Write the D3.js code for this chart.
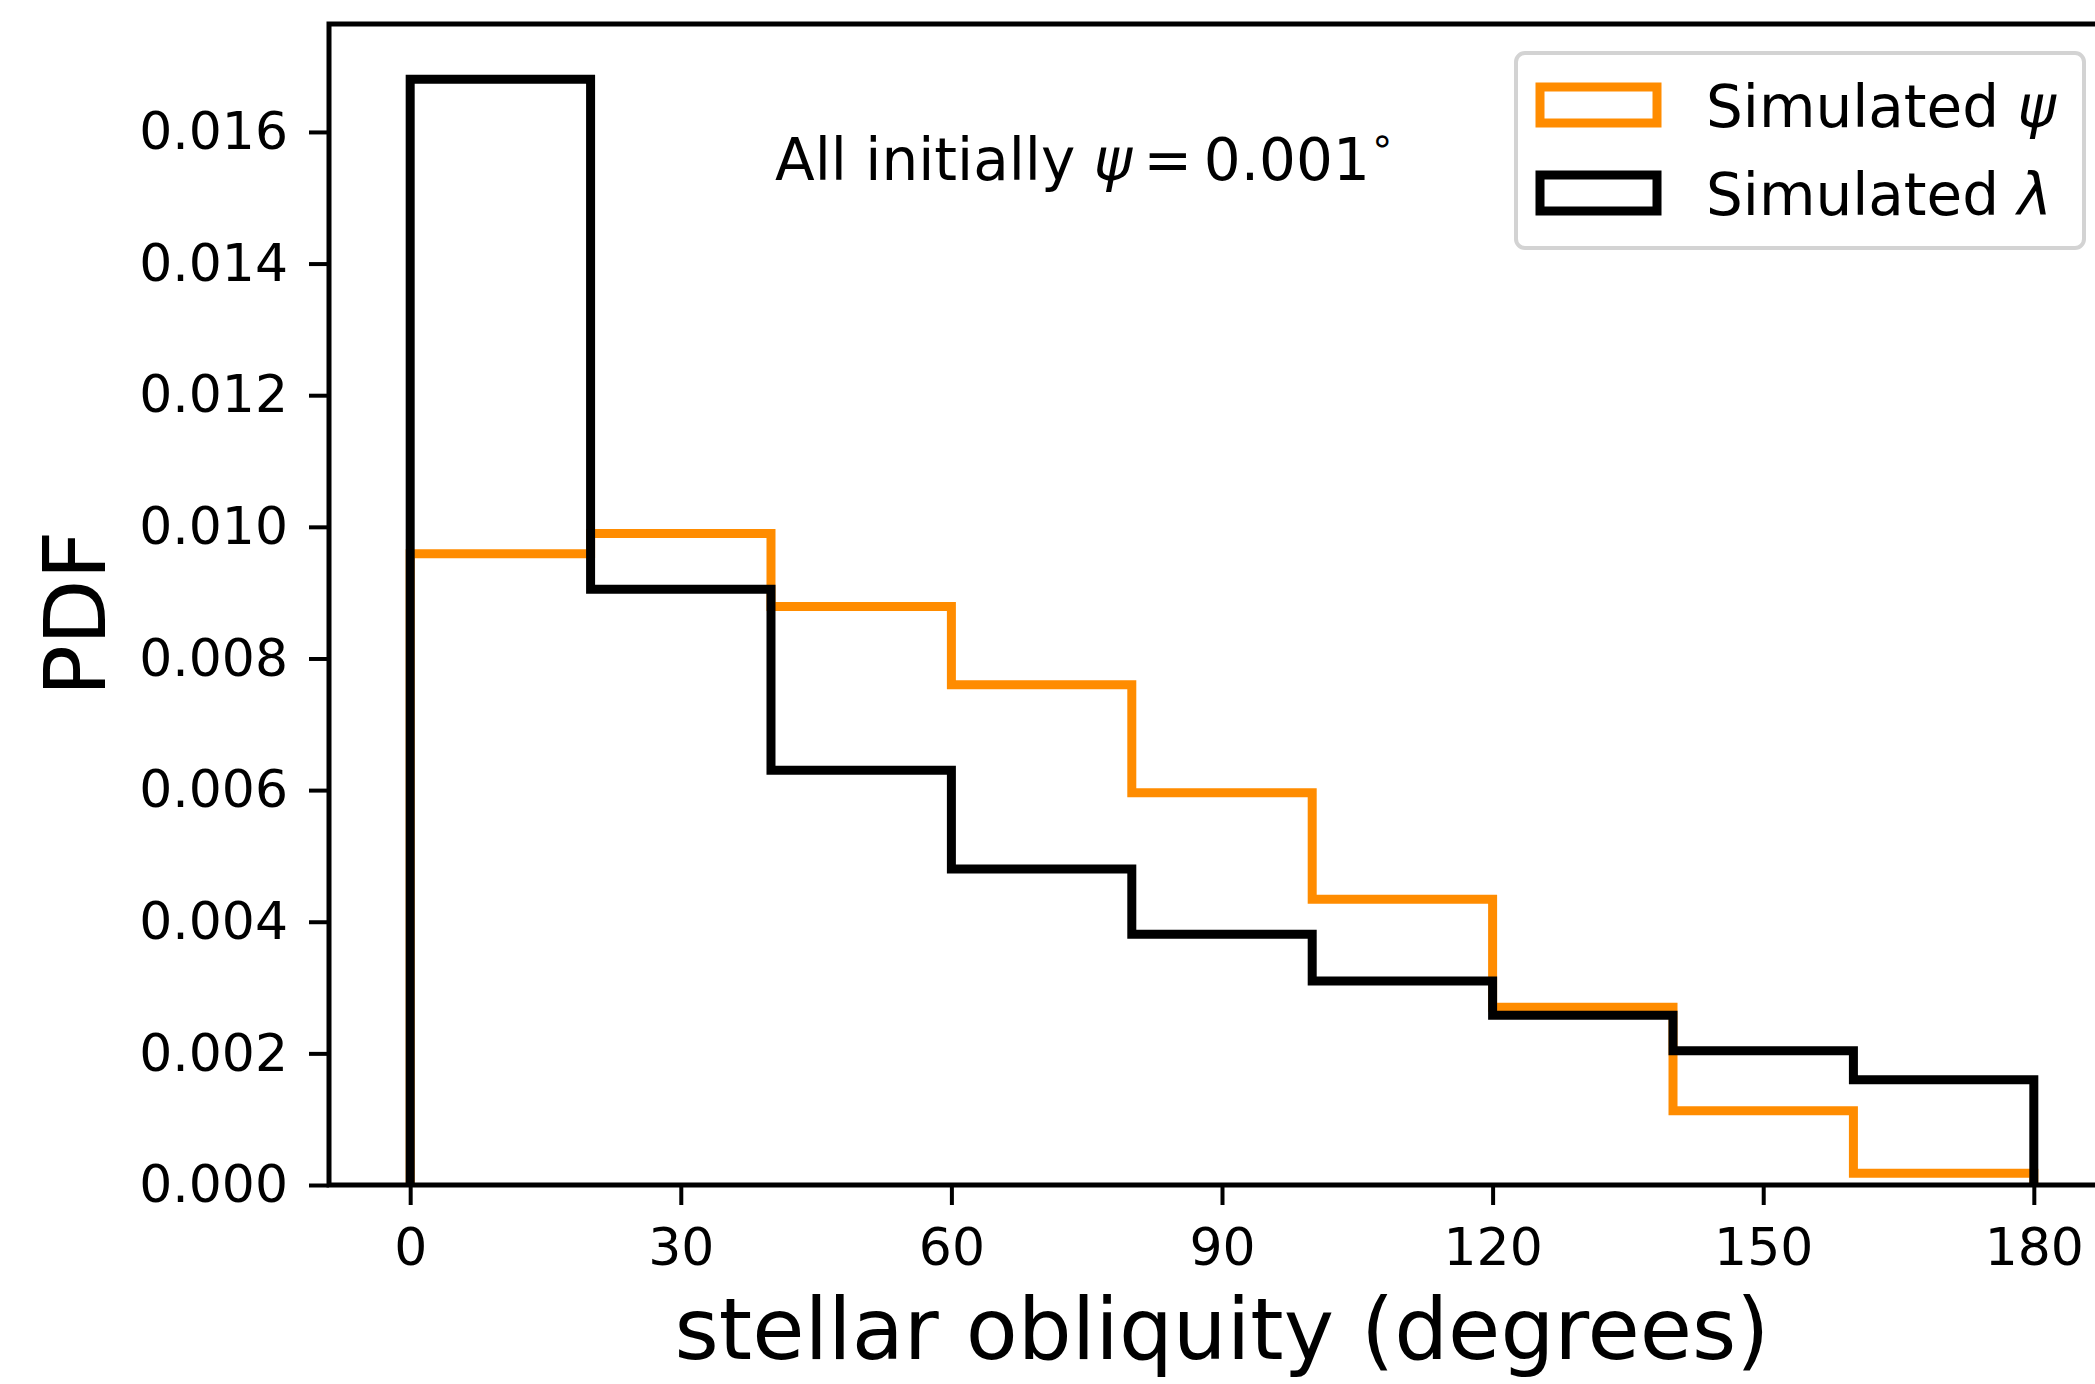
<!DOCTYPE html>
<html>
<head>
<meta charset="utf-8">
<script src="https://cdn.jsdelivr.net/npm/d3@7"></script>
<style>
  html, body { margin: 0; padding: 0; background: #fff; }
  svg { display: block; font-family: "DejaVu Sans", sans-serif; }
</style>
</head>
<body>
<div id="chart"></div>
<script>
// Histogram bins (degrees) and densities
const binEdges = [0, 20, 40, 60, 80, 100, 120, 140, 160, 180];
const psiDensity = [0.00959, 0.00990, 0.00879, 0.00760, 0.00596, 0.00434, 0.00270, 0.00113, 0.00018];
const lambdaDensity = [0.01680, 0.00905, 0.00630, 0.00480, 0.00381, 0.00310, 0.00258, 0.00204, 0.00160];
const xTicks = [0, 30, 60, 90, 120, 150, 180];
const yTicks = [0, 0.002, 0.004, 0.006, 0.008, 0.010, 0.012, 0.014, 0.016];
const seriesNames = ["Simulated ψ", "Simulated λ"];

const W = 2095, H = 1384;
// axes box (right spine sits just outside the picture)
const margin = { top: 24, right: -20, bottom: 199, left: 329 };
const width = W - margin.left - margin.right;
const height = H - margin.top - margin.bottom;

const svg = d3.select("#chart")
  .append("svg")
  .attr("width", W)
  .attr("height", H);

const g = svg.append("g")
  .attr("transform", `translate(${margin.left}, ${margin.top})`);

// matplotlib style 5% padding on x, 5% on top of y
const xScale = d3.scaleLinear().domain([-9, 189]).range([0, width]);
const yMax = d3.max(lambdaDensity) * 1.05;
const yScale = d3.scaleLinear().domain([0, yMax]).range([height, 0]);

g.append("clipPath").attr("id", "clip")
  .append("rect").attr("width", width).attr("height", height);

// build the step outline for one histogram
function stepPoints(vals) {
  const pts = [[binEdges[0], 0]];
  vals.forEach((v, i) => {
    pts.push([binEdges[i], v]);
    pts.push([binEdges[i + 1], v]);
  });
  pts.push([binEdges[binEdges.length - 1], 0]);
  return pts;
}

const line = d3.line()
  .x(d => xScale(d[0]))
  .y(d => yScale(d[1]));

const plot = g.append("g").attr("clip-path", "url(#clip)");

plot.append("path")
  .datum(stepPoints(psiDensity))
  .attr("fill", "none")
  .attr("stroke", "#ff8c00")
  .attr("stroke-width", 9)
  .attr("stroke-linejoin", "miter")
  .attr("d", line);

plot.append("path")
  .datum(stepPoints(lambdaDensity))
  .attr("fill", "none")
  .attr("stroke", "#000")
  .attr("stroke-width", 9)
  .attr("stroke-linejoin", "miter")
  .attr("d", line);

// axes
const xAxis = g.append("g")
  .attr("transform", `translate(0, ${height})`)
  .call(d3.axisBottom(xScale).tickValues(xTicks).tickSize(20).tickPadding(23).tickFormat(d3.format("d")));

const yAxis = g.append("g")
  .call(d3.axisLeft(yScale).tickValues(yTicks).tickSize(20).tickPadding(21).tickFormat(d3.format(".3f")));

[xAxis, yAxis].forEach(a => {
  a.select(".domain").remove();
  a.selectAll(".tick line").attr("stroke", "#000").attr("stroke-width", 4);
  a.selectAll(".tick text")
    .attr("fill", "#000")
    .style("font-size", "52px")
    .style("font-family", "DejaVu Sans");
});
xAxis.selectAll(".tick text").attr("dy", "0.71em");

// spines
g.append("rect")
  .attr("width", width)
  .attr("height", height)
  .attr("fill", "none")
  .attr("stroke", "#000")
  .attr("stroke-width", 5);

// annotation
const note = g.append("text")
  .attr("x", 775 - margin.left)
  .attr("y", 180 - margin.top)
  .style("font-size", "58px")
  .attr("fill", "#000");
note.append("tspan").text("All initially ");
note.append("tspan").style("font-style", "italic").text("ψ");
note.append("tspan").text("\u2009=\u20090.001");
note.append("tspan").attr("dy", -26).style("font-size", "40px").text("∘");

// legend
const leg = svg.append("g");
leg.append("rect")
  .attr("x", 1516).attr("y", 53)
  .attr("width", 568).attr("height", 195)
  .attr("rx", 9)
  .attr("fill", "#fff")
  .attr("fill-opacity", 0.8)
  .attr("stroke", "#d3d3d3")
  .attr("stroke-width", 4);

const legColors = ["#ff8c00", "#000"];
seriesNames.forEach((name, i) => {
  const y0 = 83 + i * 88;
  leg.append("rect")
    .attr("x", 1540).attr("y", y0 + 4)
    .attr("width", 117).attr("height", 36)
    .attr("fill", "none")
    .attr("stroke", legColors[i])
    .attr("stroke-width", 9);
  const t = leg.append("text")
    .attr("x", 1706).attr("y", y0 + 44)
    .style("font-size", "58px")
    .attr("fill", "#000");
  t.append("tspan").text(name.slice(0, -1));
  t.append("tspan").style("font-style", "italic").text(name.slice(-1));
});

// axis labels
svg.append("text")
  .attr("x", margin.left + width / 2)
  .attr("y", 1359)
  .attr("text-anchor", "middle")
  .style("font-size", "85px")
  .text("stellar obliquity (degrees)");

svg.append("text")
  .attr("transform", `translate(105, ${margin.top + height / 2 + 9}) rotate(-90)`)
  .attr("text-anchor", "middle")
  .style("font-size", "85px")
  .text("PDF");
</script>
</body>
</html>
